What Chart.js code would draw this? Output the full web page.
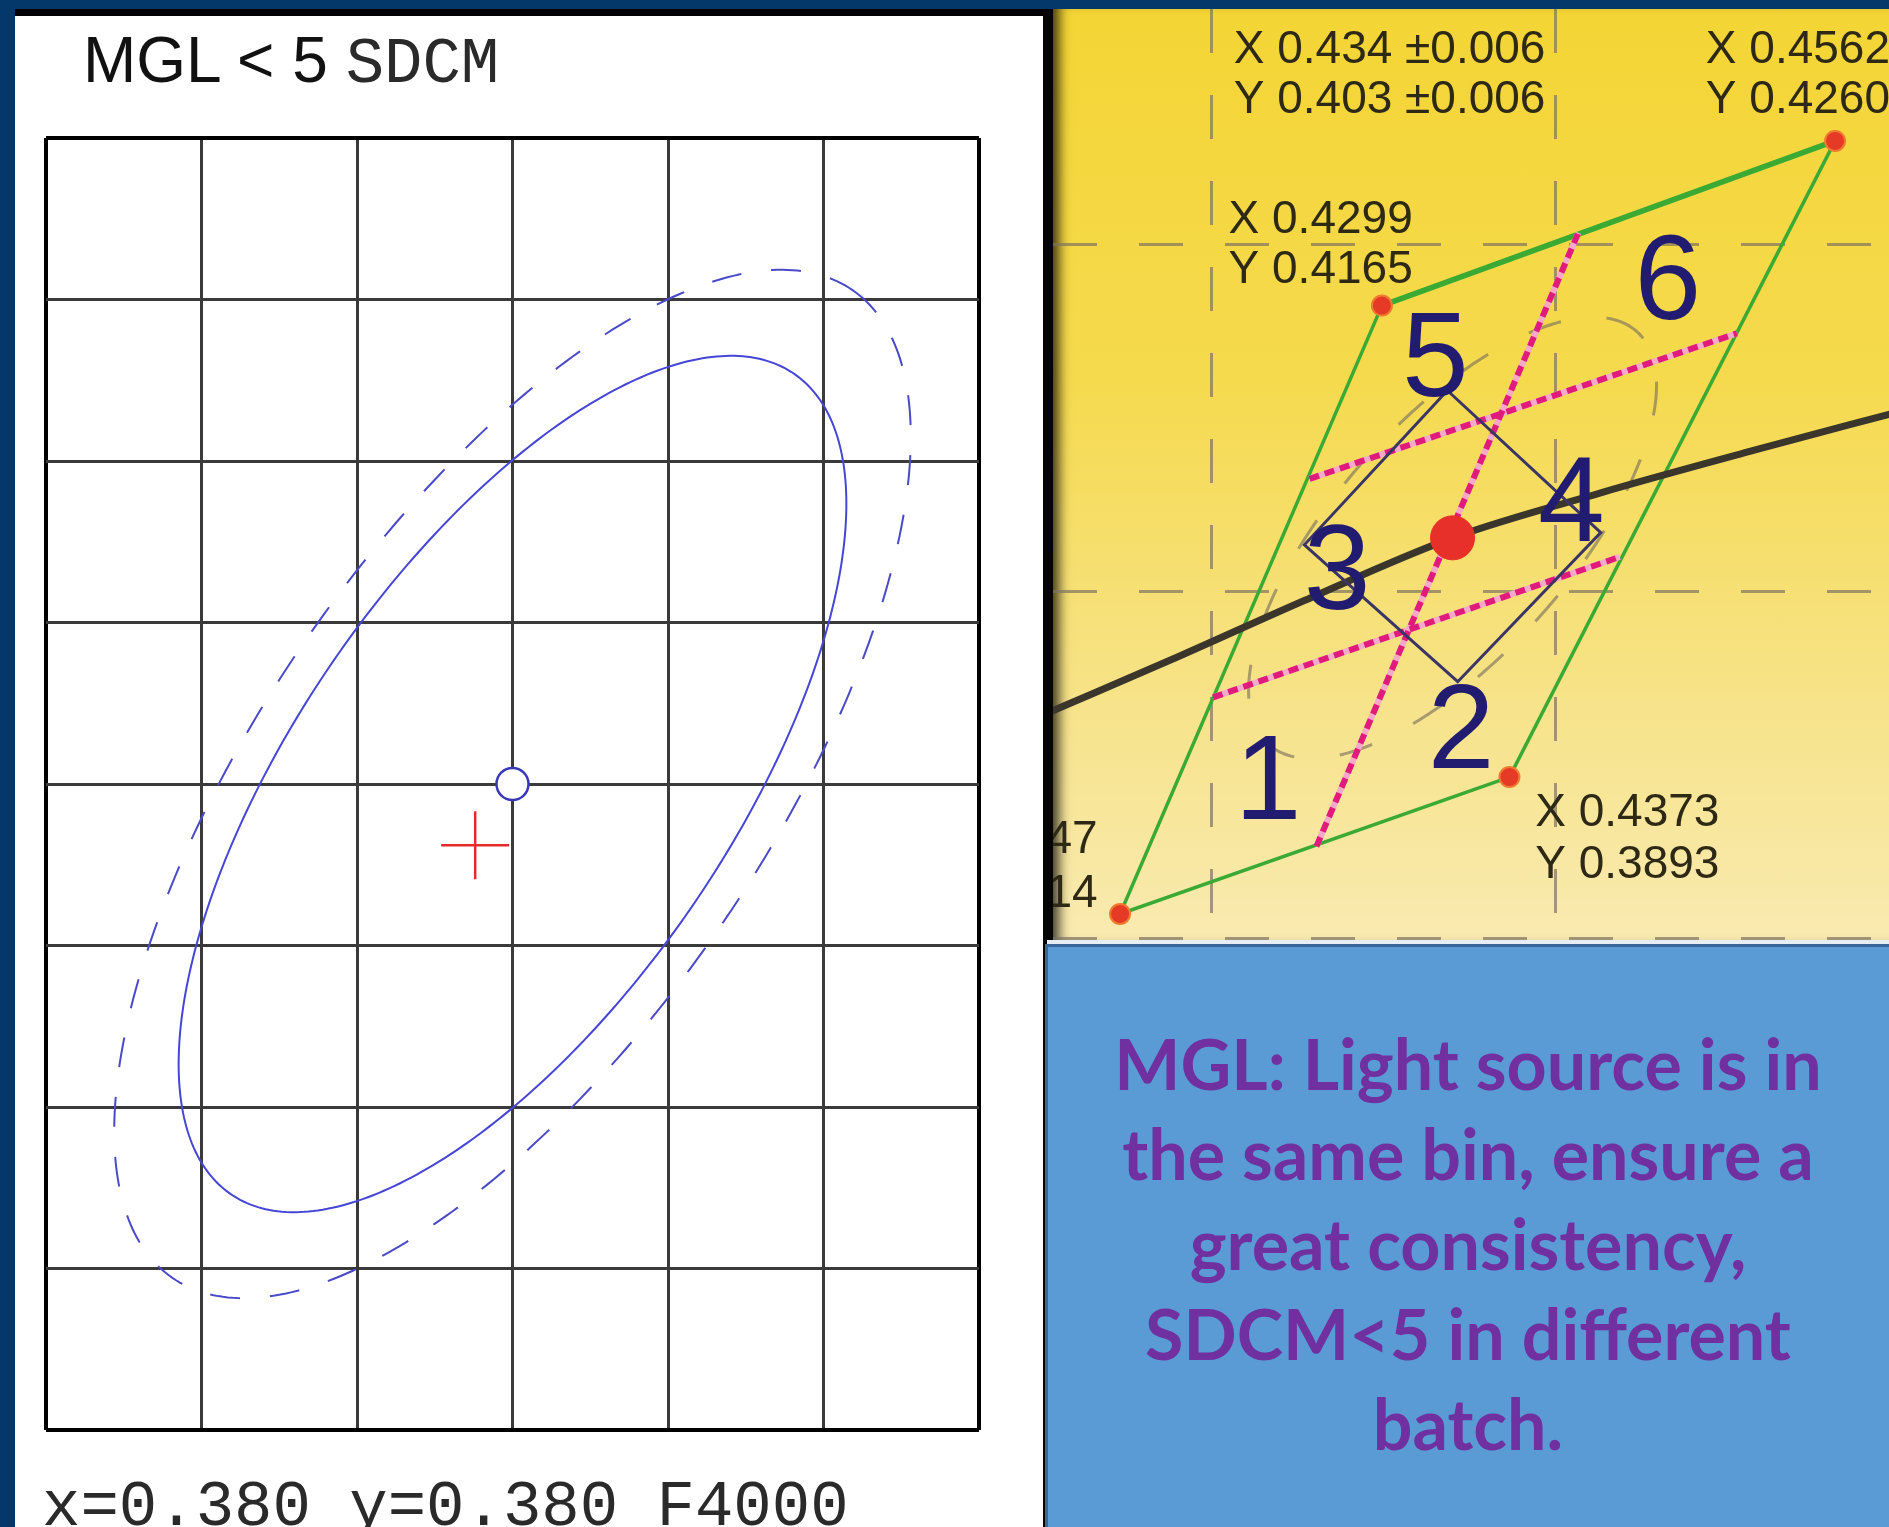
<!DOCTYPE html>
<html>
<head>
<meta charset="utf-8">
<title>MGL &lt; 5 SDCM</title>
<script src="https://cdn.jsdelivr.net/npm/chart.js@4.4.1/dist/chart.umd.min.js"></script>
<style>
  html, body { margin: 0; padding: 0; width: 1889px; height: 1527px; overflow: hidden; background: #04386a; }
  .abs { position: absolute; }
  #black-bar { left: 1043px; top: 9px; width: 10px; height: 1518px; background: #050505; }
  #white-panel { left: 15px; top: 9px; width: 1028px; height: 1518px; background: #fff; border-top: 7px solid #000; box-sizing: border-box; }
  #left-wrap { left: 15px; top: 16px; width: 1028px; height: 1511px; }
  #title { left: 83px; top: 23px; white-space: pre; line-height: 64px; color: #111; }
  #title .big { font: 64px 'Liberation Sans', Arial, sans-serif; }
  #title .small { font: 64px 'Liberation Mono', 'Courier New', monospace; color: #2a2a2a; }
  #coords { left: 42px; top: 1476px; white-space: pre; font: 64px 'Liberation Mono', 'Courier New', monospace; line-height: 64px; color: #2a2a2a; }
  #yellow-panel { left: 1053px; top: 9px; width: 836px; height: 931px;
    background: linear-gradient(to bottom, #f4d535 0%, #f5da4e 40%, #f7e38a 75%, #f9eab0 100%);
    box-shadow: inset 14px 0 12px -8px rgba(0,0,0,0.75); }
  #right-wrap { left: 1053px; top: 9px; width: 836px; height: 931px; }
  #sep { left: 1047px; top: 940px; width: 842px; height: 4px; background: #e6edf5; }
  #blue-panel { left: 1045px; top: 944px; width: 844px; height: 583px; background: #5b9bd5;
    border-left: 3px solid #3a659a; border-top: 3px solid #3a659a; box-sizing: border-box; }
  #note { left: 1047px; top: 1018px; width: 842px; text-align: center; color: #7030a0;
    font: 700 70px Lato, 'Open Sans', sans-serif; line-height: 90px; }
</style>
</head>
<body>
<div id="black-bar" class="abs"></div>
<div id="white-panel" class="abs"></div>
<div id="left-wrap" class="abs"><canvas id="chart-left"></canvas></div>
<div id="title" class="abs"><span class="big">MGL &lt; 5 </span><span class="small">SDCM</span></div>
<div id="coords" class="abs">x=0.380 y=0.380 F4000</div>
<div id="yellow-panel" class="abs"></div>
<div id="right-wrap" class="abs"><canvas id="chart-right"></canvas></div>
<div id="sep" class="abs"></div>
<div id="blue-panel" class="abs"></div>
<div id="note" class="abs">MGL: Light source is in<br>the same bin, ensure a<br>great consistency,<br>SDCM&lt;5 in different<br>batch.</div>

<script>
// ============================================
// MGL < 5 SDCM — MacAdam ellipse + ANSI 3000K bin
// ============================================

// --- Left panel: F4000 target, 0.005 grid ---
const leftXTicks = [0.365, 0.370, 0.375, 0.380, 0.385, 0.390, 0.395];
const leftYTicks = [0.360, 0.365, 0.370, 0.375, 0.380, 0.385, 0.390, 0.395, 0.400];
const targetX = [0.380];
const targetY = [0.380];
const measuredX = [0.3788];
const measuredY = [0.3781];
// ellipses around the target: 5-step (solid) and 6-step (dashed)
const ellipseA = [0.0156, 0.0188];
const ellipseB = [0.0069, 0.0080];
const ellipseAngle = [54, 54];

// --- Right panel: 3000K quadrangle split into 6 bins ---
const rightXTicks = [0.42, 0.44];
const rightYTicks = [0.38, 0.40, 0.42];
const quadX = [0.4147, 0.4299, 0.4562, 0.4373];
const quadY = [0.3814, 0.4165, 0.4260, 0.3893];
const centerX = [0.4340];
const centerY = [0.4031];
const locusX = [0.4105, 0.4182, 0.4252, 0.4340, 0.4426, 0.4513, 0.4596];
const locusY = [0.3930, 0.3963, 0.3994, 0.4031, 0.4057, 0.4081, 0.4103];
const splitX = [[0.4261, 0.4413], [0.4257, 0.4505], [0.4201, 0.4437]];
const splitY = [[0.3853, 0.4207], [0.4065, 0.4149], [0.3939, 0.4020]];
const diamondX = [0.4337, 0.4426, 0.4343, 0.4254, 0.4337];
const diamondY = [0.4116, 0.4034, 0.3948, 0.4027, 0.4116];
const stepA = [0.0160];
const stepB = [0.0068];
const stepAngle = [48];
const binNames = ['1', '2', '3', '4', '5', '6'];
const binX = [0.4233, 0.4345, 0.4273, 0.4409, 0.4330, 0.4465];
const binY = [0.3869, 0.3898, 0.3990, 0.4029, 0.4113, 0.4157];
const cornerText = ['X 0.434 ±0.006', 'Y 0.403 ±0.006', 'X 0.4562', 'Y 0.4260',
  'X 0.4299', 'Y 0.4165', 'X 0.4373', 'Y 0.3893', 'X 0.4147', 'Y 0.3814'];
const cornerTextX = [0.4213, 0.4213, 0.4487, 0.4487, 0.4210, 0.4210, 0.4388, 0.4388, 0.4134, 0.4134];
const cornerTextY = [0.4305, 0.4276, 0.4305, 0.4276, 0.4207, 0.4178, 0.3865, 0.3835, 0.3849, 0.3818];

const toPoints = (xs, ys) => xs.map((x, i) => ({ x, y: ys[i] }));

function strokeEllipse(chart, cx, cy, a, b, deg) {
  const { ctx, scales } = chart;
  const th = deg * Math.PI / 180;
  ctx.beginPath();
  for (let i = 0; i <= 360; i++) {
    const t = i / 360 * 2 * Math.PI;
    const dx = a * Math.cos(t) * Math.cos(th) - b * Math.sin(t) * Math.sin(th);
    const dy = a * Math.cos(t) * Math.sin(th) + b * Math.sin(t) * Math.cos(th);
    const px = scales.x.getPixelForValue(cx + dx);
    const py = scales.y.getPixelForValue(cy + dy);
    if (i === 0) ctx.moveTo(px, py); else ctx.lineTo(px, py);
  }
  ctx.stroke();
}

function hiddenAxis(min, max, ticks, gridColor, gridWidth, dash) {
  return {
    type: 'linear', min, max,
    ticks: { display: false },
    grid: { color: gridColor, lineWidth: gridWidth, drawTicks: false },
    border: { display: false, dash: dash || [] },
    afterBuildTicks: s => { s.ticks = ticks.map(v => ({ value: v })); }
  };
}

// --- Left chart ---
const edgeColor = list => c => (c.index === 0 || c.index === list.length - 1) ? '#000' : '#3a3a3a';
const edgeWidth = list => c => (c.index === 0 || c.index === list.length - 1) ? 4 : 3;

const ellipsePlugin = {
  id: 'ellipses',
  beforeDatasetsDraw(chart) {
    const { ctx, chartArea: ca } = chart;
    const dashes = [[], [30, 30]];
    ctx.save();
    ctx.beginPath();
    ctx.rect(ca.left, ca.top, ca.right - ca.left, ca.bottom - ca.top);
    ctx.clip();
    ctx.lineWidth = 2;
    ellipseA.forEach((a, i) => {
      ctx.strokeStyle = i ? '#4a4ac8' : '#4646d6';
      ctx.setLineDash(dashes[i]);
      strokeEllipse(chart, targetX[0], targetY[0], a, ellipseB[i], ellipseAngle[i]);
    });
    ctx.restore();
  }
};

new Chart(document.getElementById('chart-left'), {
  type: 'scatter',
  data: {
    datasets: [
      {
        data: toPoints(targetX, targetY),
        pointStyle: 'circle', pointRadius: 16,
        backgroundColor: '#fff', borderColor: '#3838b8', borderWidth: 2.5
      },
      {
        data: toPoints(measuredX, measuredY),
        pointStyle: 'cross', pointRadius: 34,
        borderColor: '#e42a2a', borderWidth: 2.5
      }
    ]
  },
  options: {
    responsive: true, maintainAspectRatio: false, animation: false, events: [],
    layout: { autoPadding: false, padding: { left: 31, top: 122, right: 64, bottom: 97 } },
    plugins: { legend: { display: false }, tooltip: { enabled: false } },
    scales: {
      x: hiddenAxis(0.365, 0.395, leftXTicks, edgeColor(leftXTicks), edgeWidth(leftXTicks)),
      y: hiddenAxis(0.360, 0.400, leftYTicks, edgeColor(leftYTicks), edgeWidth(leftYTicks))
    }
  },
  plugins: [ellipsePlugin]
});

// --- Right chart ---
const binPlugin = {
  id: 'bins',
  beforeDatasetsDraw(chart) {
    const { ctx } = chart;
    ctx.save();
    ctx.strokeStyle = 'rgba(125,115,95,0.65)';
    ctx.lineWidth = 3;
    ctx.setLineDash([34, 46]);
    strokeEllipse(chart, centerX[0], centerY[0], stepA[0], stepB[0], stepAngle[0]);
    ctx.restore();
  },
  afterDatasetsDraw(chart) {
    const { ctx, scales } = chart;
    ctx.save();
    ctx.fillStyle = '#221c70';
    ctx.font = "120px 'Liberation Sans', Arial, sans-serif";
    ctx.textAlign = 'center';
    binNames.forEach((n, i) => {
      ctx.fillText(n, scales.x.getPixelForValue(binX[i]), scales.y.getPixelForValue(binY[i]));
    });
    ctx.fillStyle = '#2d2915';
    ctx.font = "46px 'Liberation Sans', Arial, sans-serif";
    cornerText.forEach((t, i) => {
      ctx.textAlign = i >= 8 ? 'right' : 'left';
      ctx.fillText(t, scales.x.getPixelForValue(cornerTextX[i]), scales.y.getPixelForValue(cornerTextY[i]));
    });
    ctx.restore();
  }
};

const lineSet = (points, color, width, order, dash) => ({
  data: points, showLine: true, pointRadius: 0, fill: false, tension: 0,
  borderColor: color, borderWidth: width, borderDash: dash || [], order
});

const quadPoints = toPoints(quadX, quadY);
const splitSets = [];
splitX.forEach((xs, i) => {
  const pts = toPoints(xs, splitY[i]);
  splitSets.push(lineSet(pts, '#f6a9c8', 6, 5));
  splitSets.push(lineSet(pts, '#e01b7c', 6, 4, [10, 6]));
});

const locusSet = lineSet(toPoints(locusX, locusY), '#3a362c', 7, 3);
locusSet.cubicInterpolationMode = 'monotone';

new Chart(document.getElementById('chart-right'), {
  type: 'scatter',
  data: {
    datasets: [
      {
        data: toPoints(centerX, centerY), pointRadius: 22,
        backgroundColor: '#e8302a', borderColor: '#e8302a', order: 0
      },
      {
        data: quadPoints, pointRadius: 10,
        backgroundColor: '#e53a25', borderColor: '#f07a30', borderWidth: 2, order: 1
      },
      lineSet(toPoints(diamondX, diamondY), '#3b3566', 3, 2),
      locusSet,
      ...splitSets,
      lineSet([quadPoints[1], quadPoints[2]], '#3aaa35', 5.5, 6),
      lineSet([quadPoints[2], quadPoints[3], quadPoints[0], quadPoints[1]], '#3aaa35', 3.5, 7)
    ]
  },
  options: {
    responsive: true, maintainAspectRatio: false, animation: false, events: [],
    layout: { autoPadding: false, padding: 0 },
    plugins: { legend: { display: false }, tooltip: { enabled: false } },
    scales: {
      x: hiddenAxis(0.41081, 0.45933, rightXTicks, 'rgba(125,115,95,0.7)', 3, [44, 42]),
      y: hiddenAxis(0.37990, 0.43361, rightYTicks, 'rgba(125,115,95,0.7)', 3, [44, 42])
    }
  },
  plugins: [binPlugin]
});
</script>
</body>
</html>
